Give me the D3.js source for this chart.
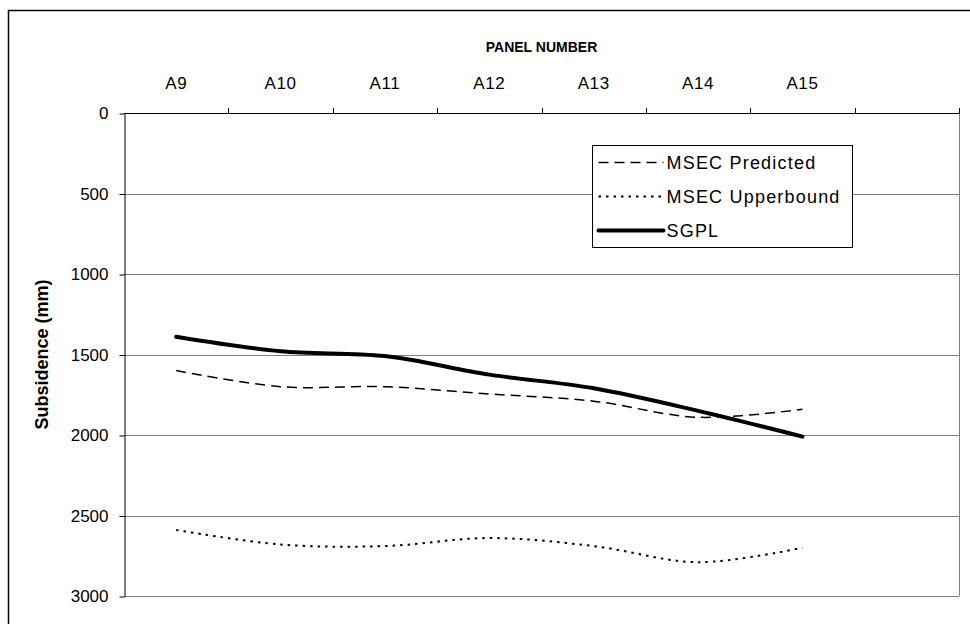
<!DOCTYPE html>
<html>
<head>
<meta charset="utf-8">
<script src="https://cdn.jsdelivr.net/npm/d3@7/dist/d3.min.js"></script>
<style>
  body { margin: 0; background: #fff; }
  text { font-family: "Liberation Sans", Arial, sans-serif; fill: #000; }
</style>
</head>
<body>
<div class="chart"></div>
<script>
// panel numbers along the top axis (the eighth band is left blank)
var panels = ['A9', 'A10', 'A11', 'A12', 'A13', 'A14', 'A15'];
var bands = panels.concat(['']);

// subsidence in mm
var msecPredicted = [1600, 1700, 1700, 1745, 1790, 1890, 1840];
var msecUpper = [2590, 2680, 2690, 2640, 2690, 2790, 2700];
var sgpl = [1390, 1480, 1510, 1625, 1710, 1850, 2010];

var yTicks = [0, 500, 1000, 1500, 2000, 2500, 3000];

var series = [
	{name: 'MSEC Predicted', values: msecPredicted, dash: '10,6', width: 1.5},
	{name: 'MSEC Upperbound', values: msecUpper, dash: '2.5,5', width: 2},
	{name: 'SGPL', values: sgpl, dash: null, width: 4}
];

var w = 970, h = 624;
var plotL = 124, plotR = 959, plotT = 113, plotB = 596;
var font = '"Liberation Sans", Arial, sans-serif';

var svg = d3.select('.chart')
	.append('svg')
	.attr('width', w)
	.attr('height', h);

// outer chart border (runs off the right and bottom edge)
svg.append('rect')
	.attr('x', 8.5).attr('y', 10.5)
	.attr('width', 980).attr('height', 640)
	.attr('fill', 'none')
	.attr('stroke', '#000')
	.attr('stroke-width', 1.5);

var x = d3.scaleBand().domain(bands).range([plotL, plotR]).padding(0);
var y = d3.scaleLinear().domain([0, 3000]).range([plotT, plotB]);
var cx = function(d){ return x(d) + x.bandwidth() / 2; };

// horizontal gridlines
svg.append('g').selectAll('line')
	.data(yTicks.slice(1))
	.enter()
	.append('line')
	.attr('x1', plotL).attr('x2', plotR)
	.attr('y1', function(d){ return Math.round(y(d)) + 0.5; })
	.attr('y2', function(d){ return Math.round(y(d)) + 0.5; })
	.attr('stroke', '#808080')
	.attr('stroke-width', 1.2);

// right edge of plot area
svg.append('line')
	.attr('x1', plotR + 0.5).attr('x2', plotR + 0.5)
	.attr('y1', plotT).attr('y2', plotB)
	.attr('stroke', '#808080');

// left axis
var yAxis = svg.append('g')
	.attr('transform', 'translate(' + (plotL + 0.5) + ',0.5)')
	.call(d3.axisLeft(y).tickValues(yTicks).tickFormat(d3.format('d'))
		.tickSize(5).tickPadding(11).tickSizeOuter(0));
yAxis.select('.domain').attr('stroke', '#000');
yAxis.selectAll('.tick text')
	.style('font-size', '17px')
	.style('font-family', font);

// top axis: labels at band centres, ticks at band boundaries
var xAxis = svg.append('g')
	.attr('transform', 'translate(0,' + (Math.round(plotT) + 0.5) + ')')
	.call(d3.axisTop(x).tickSize(0).tickPadding(25));
xAxis.select('.domain').remove();
xAxis.selectAll('.tick text')
	.style('font-size', '17px')
	.style('letter-spacing', '0.6px')
	.style('font-family', font);
svg.append('line')
	.attr('x1', plotL).attr('x2', plotR + 1)
	.attr('y1', Math.round(plotT) + 0.5).attr('y2', Math.round(plotT) + 0.5)
	.attr('stroke', '#000');
svg.append('g').selectAll('line')
	.data(bands)
	.enter()
	.append('line')
	.attr('x1', function(d){ return Math.round(x(d) + x.bandwidth()) + 0.5; })
	.attr('x2', function(d){ return Math.round(x(d) + x.bandwidth()) + 0.5; })
	.attr('y1', plotT - 5).attr('y2', plotT)
	.attr('stroke', '#000');

// axis titles
svg.append('text')
	.attr('x', (plotL + plotR) / 2).attr('y', 52)
	.attr('text-anchor', 'middle')
	.style('font-size', '14px')
	.style('font-weight', 'bold')
	.text('PANEL NUMBER');

svg.append('text')
	.attr('transform', 'translate(48,' + ((plotT + plotB) / 2) + ') rotate(-90)')
	.attr('text-anchor', 'middle')
	.style('font-size', '18px')
	.style('font-weight', 'bold')
	.text('Subsidence (mm)');

// smoothed lines, like the spreadsheet's smoothed line option
var line = d3.line()
	.x(function(d, i){ return cx(panels[i]); })
	.y(function(d){ return y(d); })
	.curve(d3.curveCatmullRom.alpha(0));

svg.append('g').selectAll('path')
	.data(series)
	.enter()
	.append('path')
	.attr('d', function(d){ return line(d.values); })
	.attr('fill', 'none')
	.attr('stroke', '#000')
	.attr('stroke-width', function(d){ return d.width; })
	.attr('stroke-linecap', function(d){ return d.dash ? 'butt' : 'round'; })
	.attr('stroke-dasharray', function(d){ return d.dash; });

// legend
var legend = svg.append('g').attr('transform', 'translate(592.5,145.5)');
legend.append('rect')
	.attr('width', 260).attr('height', 102)
	.attr('fill', '#fff')
	.attr('stroke', '#000');
var item = legend.selectAll('g.item')
	.data(series)
	.enter()
	.append('g')
	.attr('class', 'item')
	.attr('transform', function(d, i){ return 'translate(0,' + (17 + i * 34) + ')'; });
item.append('line')
	.attr('x1', 6).attr('x2', 71)
	.attr('stroke', '#000')
	.attr('stroke-width', function(d){ return d.width; })
	.attr('stroke-linecap', function(d){ return d.dash ? 'butt' : 'round'; })
	.attr('stroke-dasharray', function(d){ return d.dash; });
item.append('text')
	.attr('x', 74).attr('dy', '0.35em')
	.style('font-size', '18px')
	.style('letter-spacing', '1.2px')
	.text(function(d){ return d.name; });
</script>
</body>
</html>
